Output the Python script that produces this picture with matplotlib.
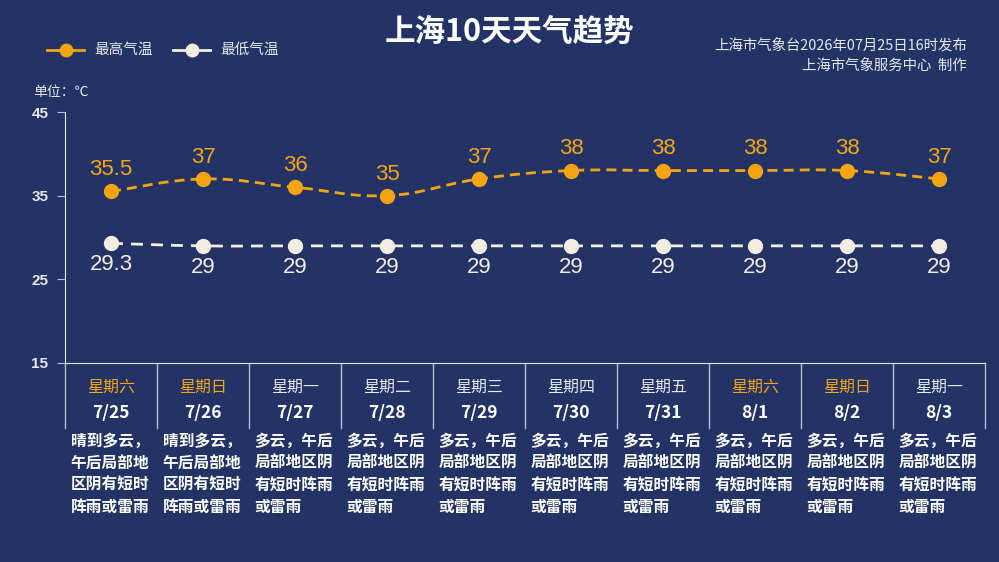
import numpy as np
import matplotlib
matplotlib.use("Agg")
import matplotlib.pyplot as plt
from matplotlib.path import Path
from matplotlib.patches import PathPatch
import matplotlib.transforms as mtransforms

plt.rcParams['font.family'] = ['Noto Sans CJK SC', 'DejaVu Sans']

dates = ["7/25", "7/26", "7/27", "7/28", "7/29", "7/30", "7/31", "8/1", "8/2", "8/3"]
weekdays = ["星期六", "星期日", "星期一", "星期二", "星期三", "星期四", "星期五", "星期六", "星期日", "星期一"]
high = [35.5, 37, 36, 35, 37, 38, 38, 38, 38, 37]
low = [29.3, 29, 29, 29, 29, 29, 29, 29, 29, 29]
weather = [
    ["晴到多云，", "午后局部地", "区阴有短时", "阵雨或雷雨"],
    ["晴到多云，", "午后局部地", "区阴有短时", "阵雨或雷雨"],
] + [["多云，午后", "局部地区阴", "有短时阵雨", "或雷雨"]] * 8
yticks = [15, 25, 35, 45]

BG = "#233366"
ORANGE = "#F5A511"
CREAM = "#F4EEE2"
LIGHT = "#E6E8EE"

fig = plt.figure(figsize=(9.99, 5.62), dpi=100, facecolor=BG)
W, H = 999, 562
ax = fig.add_axes([65 / W, 1 - 363 / H, (985 - 65) / W, (363 - 112) / H])
ax.set_facecolor(BG)
ax.set_xlim(0, 10)
ax.set_ylim(15, 45)
for s in ["top", "right"]:
    ax.spines[s].set_visible(False)
ax.spines["left"].set_color(LIGHT)
ax.spines["bottom"].set_color(LIGHT)
ax.spines["bottom"].set_bounds(0, 10)
ax.set_xticks([])
ax.set_yticks(yticks)
ax.set_yticklabels([str(t) for t in yticks], fontweight="bold", fontsize=11,
                   color=LIGHT, family=["Liberation Sans", "DejaVu Sans"])
ax.tick_params(axis="y", length=6, color="#B8BDCC", pad=6)


def smooth_path(xs, ys, k=0.2):
    verts = [(xs[0], ys[0])]
    codes = [Path.MOVETO]
    n = len(xs)
    for i in range(n - 1):
        p0 = (xs[i - 1], ys[i - 1]) if i > 0 else (xs[i], ys[i])
        p1 = (xs[i], ys[i])
        p2 = (xs[i + 1], ys[i + 1])
        p3 = (xs[i + 2], ys[i + 2]) if i + 2 < n else p2
        c1 = (p1[0] + (p2[0] - p0[0]) * k, p1[1] + (p2[1] - p0[1]) * k)
        c2 = (p2[0] - (p3[0] - p1[0]) * k, p2[1] - (p3[1] - p1[1]) * k)
        verts += [c1, c2, p2]
        codes += [Path.CURVE4] * 3
    return Path(verts, codes)


x = np.arange(len(dates)) + 0.5
for vals, col, dash in [(high, ORANGE, (3.6, 2.2)), (low, CREAM, (4.3, 2.9))]:
    patch = PathPatch(smooth_path(x, vals), fill=False, edgecolor=col, lw=2,
                      linestyle=(0, dash))
    ax.add_patch(patch)
    ax.plot(x, vals, "o", color=col, ms=10, zorder=3, clip_on=False)

num_font = ["Liberation Sans", "DejaVu Sans"]
for xi, h, l in zip(x, high, low):
    ax.annotate(f"{h:g}", (xi, h), xytext=(0, 8), textcoords="offset points",
                ha="center", va="bottom", color=ORANGE, fontsize=16, family=num_font)
    ax.annotate(f"{l:g}", (xi, l), xytext=(0, -8), textcoords="offset points",
                ha="center", va="top", color=CREAM, fontsize=16, family=num_font)

# table under the axis
trans = mtransforms.blended_transform_factory(ax.transData, ax.transAxes)
cell_bottom = (363 - 428) / (363 - 112)
for i in range(11):
    ax.plot([i, i], [0, cell_bottom], color="#B8BDCC", lw=1, transform=trans, clip_on=False)


def yax(py):
    return (363 - py) / (363 - 112)


for i in range(len(dates)):
    wcol = ORANGE if weekdays[i] in ("星期六", "星期日") else LIGHT
    ax.text(i + 0.5, yax(387), weekdays[i], transform=trans, ha="center", va="center",
            color=wcol, fontsize=11.5)
    ax.text(i + 0.5, yax(413), dates[i], transform=trans, ha="center", va="center",
            color="white", fontsize=12.5, fontweight="bold")
    for j, line in enumerate(weather[i]):
        ax.text(i + 0.06, yax(441 + j * 22), line, transform=trans, ha="left", va="center",
                color="white", fontsize=11.3, fontweight="bold")

fig.text(510 / W, 1 - 32 / H, "上海10天天气趋势", ha="center", va="center",
         color="white", fontsize=22, fontweight="bold")
fig.text(967 / W, 1 - 45 / H, "上海市气象台2026年07月25日16时发布", ha="right", va="center",
         color=LIGHT, fontsize=10.4)
fig.text(967 / W, 1 - 66 / H, "上海市气象服务中心  制作", ha="right", va="center",
         color=LIGHT, fontsize=10.4)
fig.text(33 / W, 1 - 92 / H, "单位：℃", ha="left", va="center", color=LIGHT, fontsize=10)

# legend drawn by hand in figure coords
for lx, tx, col, label in [(47, 94, ORANGE, "最高气温"), (173, 220, CREAM, "最低气温")]:
    fig.add_artist(plt.Line2D([lx / W, (lx + 37) / W], [1 - 50 / H] * 2, color=col, lw=2))
    fig.add_artist(plt.Line2D([(lx + 18.5) / W], [1 - 50 / H], marker="o", color=col, ms=9))
    fig.text(tx / W, 1 - 50 / H, label, ha="left", va="center", color=LIGHT, fontsize=10.5)

fig.savefig("out.png", dpi=100, facecolor=BG)
